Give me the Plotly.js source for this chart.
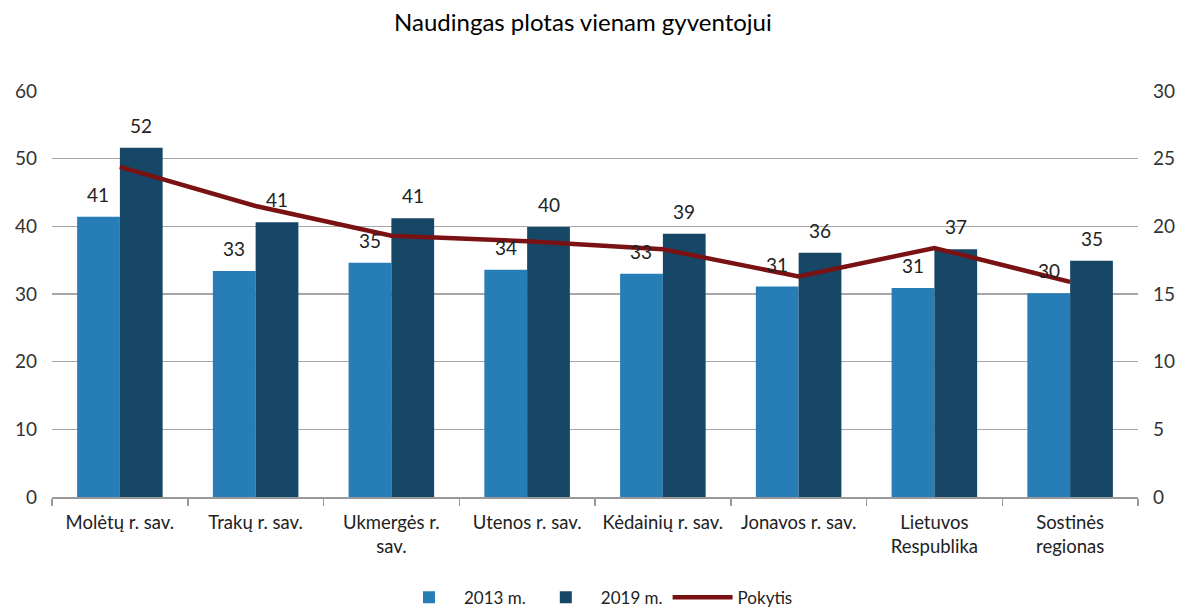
<!DOCTYPE html>
<html>
<head>
<meta charset="utf-8">
<script src="https://cdn.plot.ly/plotly-3.0.1.min.js"></script>
<style>html,body{margin:0;padding:0;background:#fff;}#chart{width:1192px;height:610px;}</style>
</head>
<body>
<div id="chart"></div>
<script>
const categories = ["Molėtų r. sav.", "Trakų r. sav.", "Ukmergės r.<br>sav.", "Utenos r. sav.", "Kėdainių r. sav.", "Jonavos r. sav.", "Lietuvos<br>Respublika", "Sostinės<br>regionas"];
const values2013 = [41.4, 33.4, 34.6, 33.6, 33.0, 31.1, 30.9, 30.1];
const values2019 = [51.6, 40.6, 41.2, 39.9, 38.9, 36.1, 36.6, 34.9];
const pokytis = [24.4, 21.5, 19.3, 18.9, 18.3, 16.3, 18.4, 15.9];

const c2013 = "#277db5";
const c2019 = "#164767";
const cLine = "#7a1214";
const font = "Lato, 'Open Sans', sans-serif";

const traces = [
  {type: "bar", name: "2013 m.", x: categories, y: values2013, marker: {color: c2013}, hoverinfo: "y"},
  {type: "bar", name: "2019 m.", x: categories, y: values2019, marker: {color: c2019}, hoverinfo: "y"},
  {type: "scatter", mode: "lines", name: "Pokytis", x: categories, y: pokytis, yaxis: "y2",
   line: {color: cLine, width: 4.5}}
];

const annotations = [];
const shift = 21.5;
categories.forEach((c, i) => {
  annotations.push({x: c, y: values2013[i], xref: "x", yref: "y", text: values2013[i].toFixed(0),
    showarrow: false, xshift: -shift, yanchor: "bottom", yshift: 9, font: {size: 19, color: "#222", family: font}});
  annotations.push({x: c, y: values2019[i], xref: "x", yref: "y", text: values2019[i].toFixed(0),
    showarrow: false, xshift: shift, yanchor: "bottom", yshift: 9, font: {size: 19, color: "#222", family: font}});
});

const layout = {
  width: 1192, height: 610,
  margin: {l: 52, r: 54, t: 91, b: 113},
  paper_bgcolor: "#fff", plot_bgcolor: "#fff",
  font: {family: font, color: "#404040", size: 16},
  title: {text: "Naudingas plotas vienam gyventojui", x: 0.489, xref: "container", xanchor: "center",
          y: 0.963, yref: "container", yanchor: "middle", font: {size: 24, color: "#000", family: font}},
  barmode: "group", bargap: 0.37, bargroupgap: 0,
  showlegend: true,
  legend: {orientation: "h", x: 0.5, xref: "container", xanchor: "center", y: 0.02, yref: "container", yanchor: "middle",
           font: {size: 17, color: "#222"}, itemwidth: 60, tracegroupgap: 0},
  xaxis: {type: "category", showgrid: false, showline: true, linecolor: "#999", linewidth: 1.5,
          ticks: "outside", tickson: "boundaries", ticklen: 7, tickcolor: "#999", tickwidth: 1.5,
          ticklabelstandoff: 8, tickfont: {size: 18.5, color: "#222"}, automargin: false},
  yaxis: {range: [0, 60], dtick: 10, showgrid: true, gridcolor: "#a6a6a6", gridwidth: 1.5, zeroline: false,
          showline: false, ticks: "", ticklabelstandoff: 14, tickfont: {size: 19, color: "#333"}, automargin: false},
  yaxis2: {range: [0, 30], dtick: 5, overlaying: "y", side: "right", showgrid: false, zeroline: false,
           showline: false, ticks: "", ticklabelstandoff: 14, tickfont: {size: 19, color: "#333"}, automargin: false},
  annotations: annotations
};

Plotly.newPlot("chart", traces, layout, {staticPlot: true, displayModeBar: false});
</script>
</body>
</html>
